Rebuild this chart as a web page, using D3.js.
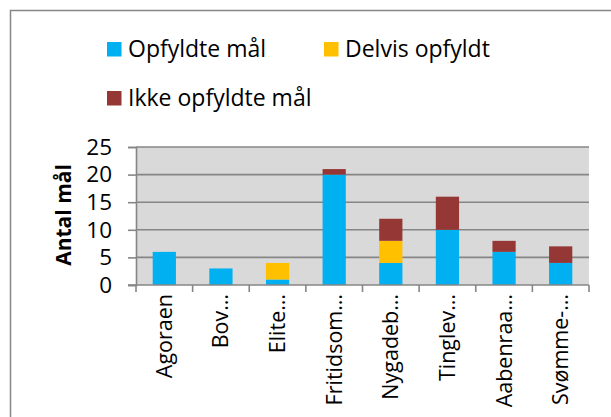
<!DOCTYPE html>
<html>
<head>
<meta charset="utf-8">
<script src="https://cdn.jsdelivr.net/npm/d3@7"></script>
<style>
  body { margin: 0; background: #fff; }
  svg { display: block; font-family: 'Open Sans', sans-serif; }
</style>
</head>
<body>
<svg id="chart" width="611" height="417"></svg>
<script>
const categories = ['Agoraen', 'Bov…', 'Elite…', 'Fritidsom…', 'Nygadeb…', 'Tinglev…', 'Aabenraa…', 'Svømme-…']
const opfyldte = [6, 3, 1, 20, 4, 10, 6, 4]
const delvis = [0, 0, 3, 0, 4, 0, 0, 0]
const ikke = [0, 0, 0, 1, 4, 6, 2, 3]
const seriesNames = ['Opfyldte mål', 'Delvis opfyldt', 'Ikke opfyldte mål']
const seriesColors = ['#00b0f0', '#ffc000', '#953735']
const yTicks = [0, 5, 10, 15, 20, 25]

const svg = d3.select('#chart')
const grey = '#868686'

// chart frame (runs past the window on right/bottom)
svg.append('rect')
  .attr('x', 10.5).attr('y', 10.5)
  .attr('width', 700).attr('height', 500)
  .attr('fill', '#fff')
  .attr('stroke', grey).attr('stroke-width', 1.5)

const rows = categories.map((c, i) => ({ cat: c, s0: opfyldte[i], s1: delvis[i], s2: ikke[i] }))
const stack = d3.stack().keys(['s0', 's1', 's2'])(rows)

const x = d3.scaleBand().domain(categories).range([136, 589]).padding(0)
const y = d3.scaleLinear().domain([0, 25]).range([285, 147])
const barW = x.bandwidth() * 0.41

// plot area
svg.append('rect')
  .attr('x', x.range()[0]).attr('y', y(25))
  .attr('width', x.range()[1] - x.range()[0]).attr('height', y(0) - y(25))
  .attr('fill', '#d9d9d9')

svg.append('g')
  .selectAll('line')
  .data(yTicks.filter(d => d > 0))
  .join('line')
  .attr('x1', x.range()[0]).attr('x2', x.range()[1])
  .attr('y1', d => y(d)).attr('y2', d => y(d))
  .attr('stroke', grey).attr('stroke-width', 1.6)

// bars
svg.append('g')
  .selectAll('g')
  .data(stack)
  .join('g')
  .attr('fill', (d, i) => seriesColors[i])
  .selectAll('rect')
  .data(d => d.filter(p => p[1] > p[0]))
  .join('rect')
  .attr('x', d => x(d.data.cat) + (x.bandwidth() - barW) / 2)
  .attr('y', d => y(d[1]))
  .attr('width', barW)
  .attr('height', d => y(d[0]) - y(d[1]))

// y axis
const yAxis = svg.append('g')
  .attr('transform', `translate(${x.range()[0]},0)`)
  .call(d3.axisLeft(y).tickValues(yTicks).tickSize(8).tickPadding(16))
yAxis.select('.domain').attr('stroke', grey).attr('stroke-width', 1.6)
yAxis.selectAll('.tick line').attr('stroke', grey).attr('stroke-width', 1.6)
yAxis.selectAll('.tick text')
  .attr('font-size', 22.5).attr('fill', '#000')
  .attr('font-family', "'Open Sans', sans-serif")

// x axis
const bounds = categories.map(c => x(c)).concat([x.range()[1]])
const xg = svg.append('g')
xg.append('line')
  .attr('x1', x.range()[0] - 8).attr('x2', x.range()[1])
  .attr('y1', y(0)).attr('y2', y(0))
  .attr('stroke', grey).attr('stroke-width', 1.6)
xg.selectAll('line.tk')
  .data(bounds)
  .join('line')
  .attr('class', 'tk')
  .attr('x1', d => d).attr('x2', d => d)
  .attr('y1', y(0)).attr('y2', y(0) + 7)
  .attr('stroke', grey).attr('stroke-width', 1.6)
xg.selectAll('text')
  .data(categories)
  .join('text')
  .attr('transform', d => `translate(${x(d) + x.bandwidth() / 2},294) rotate(-90)`)
  .attr('text-anchor', 'end')
  .attr('dy', '0.35em')
  .attr('font-size', 21.5)
  .text(d => d)

// y title
svg.append('text')
  .attr('transform', 'translate(64,215) rotate(-90)')
  .attr('text-anchor', 'middle')
  .attr('dy', '0.35em')
  .attr('font-size', 21)
  .attr('font-weight', 'bold')
  .text('Antal mål')

// legend
const legendPos = [[107, 42], [324, 42], [107, 91]]
const legend = svg.append('g')
  .selectAll('g')
  .data(seriesNames)
  .join('g')
  .attr('transform', (d, i) => `translate(${legendPos[i][0]},${legendPos[i][1]})`)
legend.append('rect')
  .attr('width', 14.5).attr('height', 14.5)
  .attr('fill', (d, i) => seriesColors[i])
legend.append('text')
  .attr('x', 21).attr('y', 15)
  .attr('font-size', 23)
  .text(d => d)
</script>
</body>
</html>
